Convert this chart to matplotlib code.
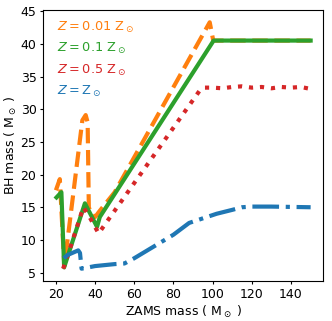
import matplotlib
matplotlib.use("Agg")
import matplotlib.pyplot as plt

# ZAMS mass vs BH mass for four metallicities
m_z001 = [20, 22, 24.3, 33.5, 35.2, 36.2, 36.8, 38, 40, 42, 50, 98.5, 100.3, 150]
bh_z001 = [17.6, 19.3, 6.0, 28.3, 29.1, 28.0, 15.0, 14.0, 13.5, 14.3, 17.3, 43.3, 40.5, 40.5]

m_z01 = [20.3, 22.8, 24.2, 34.8, 41, 42.4, 100.5, 150]
bh_z01 = [16.5, 17.3, 5.8, 15.6, 12.0, 13.5, 40.5, 40.5]

m_z05 = [23.7, 27, 34, 37, 41.8, 93.5, 96, 100, 105, 110, 115, 120, 125, 130, 135, 140, 145, 150]
bh_z05 = [5.6, 8.5, 15.0, 13.6, 11.0, 32.9, 33.3, 33.3, 33.2, 33.4, 33.5, 33.3, 33.4, 33.2, 33.4, 33.3, 33.4, 33.1]

m_z1 = [24, 26, 31.4, 32.3, 33.1, 40, 50, 55, 60, 70, 80, 88, 95, 102, 110, 115, 120, 130, 140, 150]
bh_z1 = [7.2, 7.7, 8.4, 8.0, 5.6, 6.0, 6.3, 6.4, 7.2, 9.0, 10.8, 12.6, 13.3, 14.0, 14.6, 15.0, 15.1, 15.1, 15.05, 15.0]

labels = [r'$Z = 0.01\ \rm Z_\odot$', r'$Z = 0.1\ \rm Z_\odot$',
          r'$Z = 0.5\ \rm Z_\odot$', r'$Z = \rm Z_\odot$']
colors = ['tab:orange', 'tab:green', 'tab:red', 'tab:blue']

fig = plt.figure(figsize=(3.32, 3.21), dpi=100)
ax = fig.add_axes([0.130, 0.1246, 0.844, 0.8444])

ax.plot(m_z001, bh_z001, '--', color=colors[0], lw=3, label=labels[0])
ax.plot(m_z01, bh_z01, '-', color=colors[1], lw=3, label=labels[1])
ax.plot(m_z05, bh_z05, ':', color=colors[2], lw=3, label=labels[2])
ax.plot(m_z1, bh_z1, '-.', color=colors[3], lw=3, label=labels[3])

ax.set_yticks([5, 10, 15, 20, 25, 30, 35, 40, 45])
ax.set_xticks([20, 40, 60, 80, 100, 120, 140])
ax.tick_params(labelsize=9, length=2.3, pad=2.5)
ax.set_xlabel(r'ZAMS mass ( $\rm M_\odot$ )', fontsize=9, labelpad=2)
ax.set_ylabel(r'BH mass ( $\rm M_\odot$ )', fontsize=9, labelpad=1.5)

leg = ax.legend(loc='upper left', bbox_to_anchor=(0.015, 1.0), frameon=False,
                handlelength=0, handletextpad=0, fontsize=9.3,
                labelspacing=0.5, borderaxespad=0.35)
for txt, c in zip(leg.get_texts(), colors):
    txt.set_color(c)
for h in leg.legend_handles:
    h.set_visible(False)

fig.savefig('out.png', dpi=100)
